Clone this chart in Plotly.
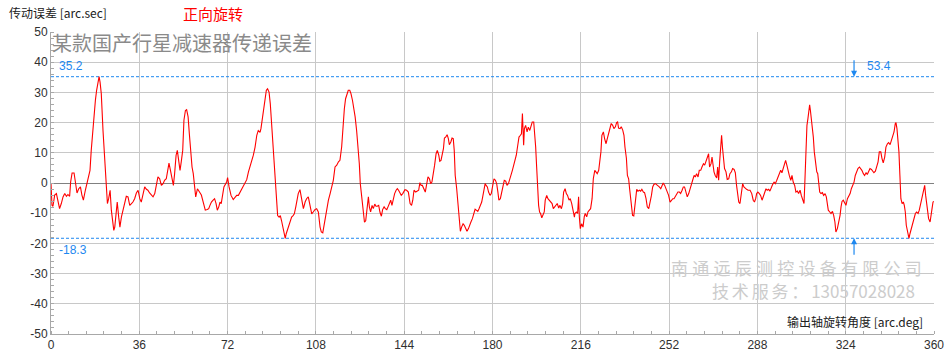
import plotly.graph_objects as go

# ---- data (angle in arc.deg, error in arc.sec) ----
ang_a = [0.0, 0.4, 0.8, 1.5, 2.2, 2.9, 3.5, 4.2, 4.9, 5.6, 6.3, 6.9, 7.6, 8.0, 8.6, 9.4, 9.9, 10.6,
         11.3, 12.0, 12.6, 13.2, 14.0, 14.8, 15.4, 15.9, 16.4, 17.0, 17.5, 18.1, 18.6, 19.2, 19.6,
         20.0, 20.5, 21.2, 21.9, 22.4, 23.0, 23.5, 24.1, 24.6, 25.1, 25.6, 26.0, 26.5, 27.0, 27.6,
         28.1, 28.7, 29.4, 30.0, 30.7, 31.4, 32.1, 32.8, 33.4, 34.1, 34.8, 35.5, 36.2, 36.8, 37.5,
         38.2, 38.9, 39.5, 40.2, 40.9, 41.6, 42.3, 42.9, 43.6, 44.3, 45.0, 45.7, 46.3, 47.0, 47.7,
         48.1, 48.7, 49.3, 49.9, 50.4, 51.0, 51.5, 52.1, 52.6, 53.1, 53.7, 54.2, 54.8, 55.3, 55.9,
         56.4, 56.9, 57.5, 58.0, 58.6, 59.0, 59.7, 60.2, 60.8, 61.3, 61.8, 62.4, 62.9, 63.7, 64.3,
         64.8, 65.4, 66.1, 66.7, 67.3, 67.8, 68.4, 68.9, 69.4, 70.0, 70.5]
err_a = [-0.2, -7.4, -7.7, -4.0, -3.5, -6.3, -8.5, -6.8, -4.6, -3.5, -4.4, -3.8, -4.4, 0.3, 3.3, 3.3,
         -0.2, -3.3, -1.9, -1.3, -4.0, -5.7, -2.4, 0.3, 2.9, 4.2, 10.8, 17.4, 20.8, 27.4, 30.7, 33.4,
         35.2, 33.4, 29.6, 17.4, 8.6, 0.9, -6.8, -5.2, -2.4, -9.0, -13.5, -15.7, -14.6, -9.0, -6.3,
         -11.3, -14.6, -11.3, -9.0, -6.8, -4.4, -4.6, -7.4, -6.8, -6.3, -5.2, -3.3, -2.4, -5.2, -6.3,
         -3.5, -1.3, -2.1, -2.4, -3.3, -4.0, -4.6, -3.5, -0.8, 2.0, 1.4, -0.8, -0.2, 0.9, 1.4, 4.7,
         6.6, 4.2, 0.9, -0.8, 3.1, 9.2, 10.8, 6.4, 4.2, 7.0, 10.8, 20.8, 24.0, 24.3, 21.9, 16.3,
         10.8, 5.3, 3.1, -0.8, -4.6, -1.9, -2.4, -3.3, -4.0, -5.7, -7.9, -9.0, -8.8, -8.5, -7.4,
         -6.3, -5.7, -5.2, -6.8, -9.0, -7.9, -6.3, -6.8, -4.0, -1.3]

ang_b = [71.6, 72.0, 72.6, 73.4, 74.3, 75.0, 75.7, 76.4, 77.1, 77.7, 78.4, 79.1, 79.8, 80.5, 81.1,
         81.8, 82.5, 83.2, 83.9, 84.5, 85.2, 85.6, 86.2, 86.7, 87.2, 87.8, 88.3, 88.9, 89.4, 90.0,
         90.5, 91.1, 91.6, 92.0, 92.4, 93.0, 93.5, 94.0, 94.6, 95.1, 95.5, 95.9, 96.5, 97.0, 97.6,
         98.1, 98.7, 99.2, 99.8, 100.3, 100.8, 101.5, 102.2, 102.9, 103.6, 104.2, 104.9, 105.6,
         106.3, 106.9, 107.6, 108.3, 109.0, 109.7, 110.2, 110.8, 111.3, 111.7, 112.4, 113.1, 113.8,
         114.4, 115.1, 115.8, 116.5, 117.2, 117.8, 118.5, 119.0, 119.6, 120.1, 120.7, 121.2, 121.8,
         122.3, 122.9, 123.4, 124.0, 124.6, 125.3, 125.7, 126.1, 126.7, 127.2, 127.8, 128.3, 128.8,
         129.4, 129.8, 130.3, 130.9, 131.4, 132.0, 132.5, 133.0, 133.6, 134.1, 134.7, 135.2, 135.8,
         136.3, 136.9, 137.4, 137.9, 138.5, 139.0, 139.6, 140.1, 140.7, 141.2, 141.7, 142.3, 142.8,
         143.4, 143.9, 144.3]
err_b = [0.3, 1.8, -1.3, -4.1, -5.5, -4.6, -4.1, -4.1, -3.0, -1.9, -0.8, 0.0, 1.1, 3.7, 5.3, 7.5,
         9.2, 11.9, 15.8, 17.4, 16.8, 18.0, 21.3, 24.6, 28.5, 30.7, 31.2, 30.1, 26.3, 18.6, 10.8,
         3.1, -2.4, -7.9, -10.8, -11.3, -10.8, -12.5, -15.2, -16.8, -18.3, -16.8, -15.2, -13.5,
         -11.9, -11.3, -10.8, -10.2, -7.9, -5.7, -3.5, -2.2, -5.2, -8.5, -6.3, -5.2, -4.6, -7.9,
         -10.2, -9.6, -8.8, -8.5, -9.6, -14.6, -16.2, -16.5, -14.0, -11.3, -8.5, -5.7, -3.5, -1.3,
         0.9, 5.3, 5.9, 7.0, 7.5, 11.9, 18.6, 24.6, 27.9, 29.6, 30.7, 30.7, 29.6, 27.4, 25.2, 21.9,
         17.4, 11.9, 6.4, -0.2, -4.1, -8.5, -13.0, -12.5, -9.6, -4.6, -7.9, -9.6, -7.4, -8.5, -7.0,
         -7.7, -7.7, -7.4, -9.6, -11.0, -8.8, -7.9, -8.5, -8.8, -7.9, -6.8, -5.7, -7.4, -5.2, -3.5,
         -2.4, -1.9, -2.4, -3.5, -4.1, -3.5, -2.4, -2.2]

ang_c = [145.0, 145.7, 146.4, 147.0, 147.5, 148.0, 148.7, 149.4, 149.9, 150.4, 150.9, 151.4, 152.1,
         152.6, 153.2, 153.7, 154.3, 154.8, 155.3, 155.9, 156.4, 157.0, 157.5, 158.1, 158.5, 159.0,
         159.6, 160.0, 160.4, 160.9, 161.5, 162.0, 162.4, 163.0, 163.5, 164.0, 164.4, 164.8, 165.4,
         165.8, 166.2, 166.5, 166.9, 167.4, 168.0, 168.5, 169.1, 169.6, 170.2, 170.7, 171.2, 171.8,
         172.3, 172.9, 173.4, 174.0, 174.5, 175.0, 175.6, 176.0, 176.4, 177.0, 177.4, 177.9, 178.4,
         179.0, 179.5, 180.1, 180.6, 181.2, 181.7, 182.2, 182.6, 183.2, 183.7, 184.3, 184.8, 185.4,
         185.9, 186.5, 187.0, 187.5, 188.1, 188.6, 189.2, 189.7, 190.3, 190.8, 191.4, 191.8, 192.2,
         192.4, 192.7, 193.0, 193.5, 194.1, 194.6, 195.2, 195.7, 196.2, 196.8, 197.2, 197.6, 198.0,
         198.4, 198.8, 199.2, 199.6, 200.1, 200.6, 201.1, 201.5, 202.1, 202.6, 203.2, 203.7, 204.3,
         204.8, 205.3, 205.9, 206.4, 207.0, 207.5, 208.1, 208.6, 209.0, 209.6, 210.1, 210.6, 211.2,
         211.7, 212.3, 212.8, 213.4]
err_c = [-2.4, -3.0, -6.8, -7.4, -5.7, -2.4, -3.0, -2.7, -2.4, 0.1, -0.8, -0.8, -1.9, -3.0, -0.2,
         2.0, 1.4, -0.2, 0.3, 3.1, 5.9, 9.7, 10.8, 9.2, 7.2, 7.5, 9.7, 11.4, 14.9, 15.2, 16.0, 14.7,
         12.7, 13.6, 14.9, 14.7, 10.8, 2.5, -1.9, -5.7, -9.6, -14.0, -16.0, -14.6, -13.5, -14.0,
         -15.3, -16.0, -15.1, -13.5, -12.9, -11.8, -10.1, -8.7, -9.0, -9.4, -8.5, -7.4, -6.3, -4.6,
         -2.4, -0.2, -0.8, -1.3, -3.0, -4.1, -3.5, -0.8, 1.4, 0.9, -0.2, -3.0, -5.7, -5.2, -3.0,
         -1.3, 0.9, 0.6, -0.8, -0.2, 0.9, 2.5, 4.2, 5.9, 7.5, 9.2, 12.5, 15.2, 15.8, 16.3, 23.0,
         20.2, 12.5, 18.0, 19.1, 16.9, 18.5, 17.4, 19.1, 20.2, 20.2, 16.3, 11.9, 5.3, -3.5, -7.4,
         -9.6, -10.1, -11.5, -10.7, -9.6, -5.7, -4.1, -5.2, -5.7, -6.3, -6.8, -8.5, -7.9, -7.4,
         -6.8, -8.3, -7.4, -8.5, -6.8, -3.0, -1.9, -3.5, -4.1, -5.7, -5.2, -6.8, -9.6, -11.3]

ang_d = [213.6, 214.2, 214.7, 215.1, 215.4, 215.8, 216.3, 216.9, 217.4, 217.8, 218.4, 218.9, 219.5,
         220.0, 220.6, 221.1, 221.7, 222.2, 222.7, 223.3, 223.8, 224.2, 224.6, 225.2, 225.7, 226.3,
         226.8, 227.4, 227.9, 228.4, 229.0, 229.5, 230.1, 230.6, 231.0, 231.4, 232.0, 232.5, 233.1,
         233.6, 234.0, 234.6, 235.0, 235.5, 235.9, 236.3, 236.7, 237.1, 237.6, 238.0, 238.4, 238.8,
         239.3, 239.9, 240.4, 240.9, 241.5, 242.0, 242.6, 243.1, 243.7, 244.2, 244.8, 245.3, 245.8,
         246.4, 246.9, 247.5, 248.0, 248.6, 249.1, 249.6, 250.2, 250.7, 251.3, 251.8, 252.4, 252.9,
         253.5, 254.0, 254.5, 255.1, 255.6, 256.2, 256.7, 257.3, 257.8, 258.3, 258.9, 259.4, 260.0,
         260.5, 261.1, 261.6, 262.2, 262.7, 263.2, 263.8, 264.3, 264.9, 265.4, 266.0, 266.5, 267.0,
         267.6, 268.1, 268.5, 269.1, 269.5, 269.9, 270.3, 270.8, 271.4, 271.8, 272.2, 272.6, 273.0,
         273.4, 273.8, 274.2, 274.6, 275.2, 275.7, 276.3, 276.8, 277.4, 277.9, 278.5, 279.0, 279.5,
         279.9, 280.4, 280.9, 281.5, 282.0, 282.5, 283.1, 283.6, 284.2, 284.7]
err_d = [-10.1, -9.6, -10.1, -4.6, -11.2, -15.1, -13.5, -14.6, -11.2, -10.1, -11.2, -9.6, -9.0,
         -8.5, -5.2, 1.4, 4.2, 3.7, 3.1, 4.2, 7.0, 10.3, 15.8, 16.9, 14.7, 13.0, 14.7, 16.9, 18.0,
         19.7, 19.1, 18.0, 18.6, 20.0, 20.2, 18.2, 18.0, 18.6, 17.5, 15.8, 11.9, 8.1, 2.5, 1.4,
         -1.9, -5.2, -7.4, -10.7, -10.9, -7.4, -3.0, -2.1, -2.7, -2.4, -2.7, -2.1, -3.0, -3.2,
         -5.2, -7.9, -8.5, -6.8, -4.1, -1.3, -0.5, -0.2, -0.5, -0.8, -1.3, -1.9, -0.5, 0.0, -0.8,
         -1.9, -3.0, -4.1, -6.3, -5.7, -5.2, -5.2, -4.6, -3.5, -3.0, -3.0, -3.5, -2.4, -1.3, -1.3,
         -3.0, -4.6, -3.5, -1.9, -0.2, 0.9, 2.5, 2.0, 3.1, 2.0, 4.2, 4.2, 5.3, 6.4, 5.9, 7.0, 8.6,
         9.7, 5.3, 6.4, 8.6, 5.3, 3.7, 2.5, 1.7, 5.3, 0.9, 7.0, 12.5, 15.8, 11.4, 8.1, 4.8, 3.7,
         1.2, 1.4, 3.1, 3.7, 4.8, 4.5, 3.4, -0.8, -4.1, -6.3, -6.8, -1.9, -0.2, -1.3, -1.9, -2.1,
         -2.4, -2.4]

ang_e = [285.0, 285.7, 286.3, 286.8, 287.3, 287.7, 288.2, 288.8, 289.3, 289.9, 290.4, 291.0, 291.5,
         292.0, 292.6, 293.1, 293.7, 294.2, 294.8, 295.3, 295.9, 296.4, 297.0, 297.5, 298.0, 298.6,
         299.1, 299.5, 300.0, 300.5, 301.0, 301.6, 302.1, 302.6, 303.2, 303.7, 304.3, 304.8, 305.4,
         305.9, 306.5, 307.0, 307.3, 307.5, 307.8, 308.2, 308.6, 309.0, 309.3, 309.6, 310.0, 310.4,
         310.8, 311.2, 311.6, 312.2, 312.6, 313.0, 313.4, 313.9, 314.5, 315.0, 315.6, 316.1, 316.5,
         316.9, 317.5, 318.0, 318.6, 319.1, 319.6, 320.0, 320.6, 321.1, 321.7, 322.1, 322.5, 323.0,
         323.6, 324.1, 324.7, 325.2, 325.8, 326.3, 326.8, 327.4, 327.9, 328.5, 329.0, 329.6, 330.1,
         330.6, 331.2, 331.7, 332.3, 332.8, 333.4, 333.9, 334.5, 335.0, 335.5, 336.1, 336.6, 337.2,
         337.7, 338.3, 338.8, 339.3, 339.9, 340.4, 341.0, 341.5, 342.1, 342.6, 343.2, 343.7, 344.2,
         344.5, 344.9, 345.3, 345.7, 346.1, 346.5, 347.0, 347.5, 347.9, 348.3, 348.7, 349.3, 349.8,
         350.2, 350.8, 351.3, 351.8, 352.4, 352.9, 353.5, 354.0, 354.6, 355.0, 355.4, 355.8, 356.2,
         356.6, 357.0, 357.4, 357.8, 358.4, 358.8, 359.2, 359.6, 360.0]
err_e = [-2.4, -3.5, -5.7, -6.3, -5.2, -3.5, -3.0, -3.5, -4.1, -5.7, -4.6, -3.0, -1.9, -2.4, -2.1,
         -2.7, -1.3, -0.5, 0.3, -0.2, 0.9, 2.0, 2.8, 4.2, 3.4, 5.3, 7.2, 7.5, 5.9, 3.7, 2.5, 0.9,
         2.5, 0.3, -0.8, -3.0, -2.7, -3.5, -2.4, -4.1, -5.7, -6.8, -0.8, 4.8, 15.8, 19.1, 21.3,
         24.6, 25.9, 24.1, 21.3, 16.9, 15.2, 10.3, 7.0, 3.7, 3.1, 0.3, -3.0, -3.5, -3.2, -4.1,
         -3.5, -4.6, -6.8, -9.0, -9.6, -10.1, -9.4, -10.7, -12.9, -16.2, -15.1, -13.5, -10.7, -7.9,
         -6.1, -5.7, -6.8, -7.4, -5.2, -4.6, -3.5, -1.9, -0.8, 0.3, 2.5, 4.2, 4.8, 5.3, 4.8, 4.2,
         3.1, 2.5, 3.4, 2.8, 3.9, 4.8, 4.5, 3.7, 3.4, 3.9, 5.3, 7.0, 10.3, 10.3, 8.1, 6.7, 8.6,
         11.9, 13.0, 13.4, 12.7, 14.1, 15.8, 16.9, 19.6, 20.0, 18.0, 14.1, 10.3, 2.5, -5.2, -6.8,
         -6.3, -7.4, -9.6, -14.0, -16.8, -18.3, -16.8, -15.1, -14.0, -11.8, -10.1, -9.6, -10.1,
         -9.0, -6.8, -5.2, -3.0, -1.9, -0.8, -4.1, -7.4, -10.1, -11.8, -12.9, -9.6, -8.5, -6.3, -6.1]

max_err = 35.2
min_err = -18.3
p2p_text = "53.4"
x_ticks = [0, 36, 72, 108, 144, 180, 216, 252, 288, 324, 360]
y_ticks = [50, 40, 30, 20, 10, 0, -10, -20, -30, -40, -50]
p2p_angle = 327.4
company = "南通远辰测控设备有限公司"
service_label = "技术服务："
service_phone = "13057028028"

angles = ang_a + ang_b + ang_c + ang_d + ang_e
errors = err_a + err_b + err_c + err_d + err_e

BLUE = "#1e88f0"
GRID = "#c8c8c8"
CJK = "Noto Sans CJK SC"
LAT = "Liberation Sans, Arial, sans-serif"
SP4 = "\u2005"   # four-per-em space
SP6 = "\u2006"   # six-per-em space

fig = go.Figure()
fig.add_trace(go.Scatter(x=[0, 360], y=[max_err, max_err], mode="lines",
                         line=dict(color=BLUE, width=1, dash="3px,2px"), hoverinfo="skip"))
fig.add_trace(go.Scatter(x=[0, 360], y=[min_err, min_err], mode="lines",
                         line=dict(color=BLUE, width=1, dash="3px,2px"), hoverinfo="skip"))
fig.add_trace(go.Scatter(x=angles, y=errors, mode="lines",
                         line=dict(color="#ff0000", width=1.1)))

axis_common = dict(showgrid=True, gridcolor=GRID, gridwidth=1, showline=True, linecolor="#a8a8a8",
                   linewidth=1, mirror=False, ticks="", automargin=False,
                   tickfont=dict(family=LAT, size=12, color="#303030"), fixedrange=True)
fig.update_xaxes(range=[0, 360], tickvals=x_ticks, ticktext=[str(v) for v in x_ticks],
                 zeroline=False,
                 minor=dict(ticks="inside", dtick=7.2, tick0=0, ticklen=3, tickcolor="#a8a8a8", showgrid=False),
                 **axis_common)
fig.update_yaxes(range=[-50, 50], tickvals=y_ticks, ticktext=[str(v) for v in y_ticks],
                 zeroline=True, zerolinecolor="#808080", zerolinewidth=1,
                 minor=dict(ticks="inside", dtick=2, tick0=0, ticklen=3, tickcolor="#a8a8a8", showgrid=False),
                 **axis_common)

W, H = 946, 359
L, R, T, B = 51, 12, 32, 25
pw, ph = W - L - R, H - T - B

def px(xp):
    return (xp - L) / pw

def py(yp):
    return (H - B - yp) / ph

line1 = SP4.join(company)
line2 = SP6.join(service_label) + SP6 + service_phone

ann = [
    dict(text="传动误差 [arc.sec]", x=px(8), y=py(12), xanchor="left", yanchor="middle",
         font=dict(family=CJK, size=12, color="#202020")),
    dict(text="正向旋转", x=px(182), y=py(14), xanchor="left", yanchor="middle",
         font=dict(family=CJK, size=15, color="#ff0000")),
    dict(text="某款国产行星减速器传递误差", x=px(51), y=py(43), xanchor="left", yanchor="middle",
         font=dict(family=CJK, size=20, color="#8a8a8a")),
    dict(text=line1, x=px(923), y=py(267.5), xanchor="right", yanchor="middle",
         font=dict(family=CJK, size=17, color="#cccccc")),
    dict(text=line2, x=px(916), y=py(290), xanchor="right", yanchor="middle",
         font=dict(family=CJK, size=17, color="#cccccc")),
    dict(text="输出轴旋转角度 [arc.deg]", x=px(924), y=py(321), xanchor="right", yanchor="middle",
         font=dict(family=CJK, size=12, color="#202020")),
]
for a in ann:
    a.update(xref="paper", yref="paper", showarrow=False, borderpad=0)

ann += [
    dict(text=f"{max_err}", x=2.4, y=38.7, xref="x", yref="y", xanchor="left", yanchor="middle",
         showarrow=False, font=dict(family=LAT, size=12, color=BLUE)),
    dict(text=f"{min_err}", x=2.6, y=-22.2, xref="x", yref="y", xanchor="left", yanchor="middle",
         showarrow=False, font=dict(family=LAT, size=12, color=BLUE)),
    dict(text=p2p_text, x=p2p_angle + 4.3, y=38.7, xref="x", yref="y", xanchor="left", yanchor="middle",
         showarrow=False, font=dict(family=LAT, size=12, color=BLUE)),
    dict(text="", x=p2p_angle, y=max_err, xref="x", yref="y", showarrow=True, ax=0, ay=-18,
         arrowhead=2, arrowsize=1, arrowwidth=1.2, arrowcolor=BLUE),
    dict(text="", x=p2p_angle, y=min_err, xref="x", yref="y", showarrow=True, ax=0, ay=18,
         arrowhead=2, arrowsize=1, arrowwidth=1.2, arrowcolor=BLUE),
]

fig.update_layout(width=W, height=H, margin=dict(l=L, r=R, t=T, b=B, pad=0),
                  paper_bgcolor="white", plot_bgcolor="white", showlegend=False,
                  annotations=ann)
fig.write_html("out.html")
